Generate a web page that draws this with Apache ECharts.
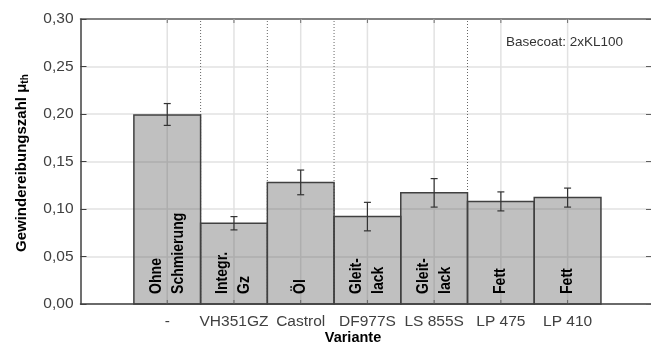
<!DOCTYPE html>
<html><head><meta charset="utf-8">
<script src="https://cdn.jsdelivr.net/npm/echarts@6/dist/echarts.min.js"></script>
<style>html,body{margin:0;padding:0;background:#fff}#c{width:651px;height:350px}</style>
</head><body><div id="c"></div>
<script>
var categories = ['-', 'VH351GZ', 'Castrol', 'DF977S', 'LS 855S', 'LP 475', 'LP 410'];
var barLabels = ['Ohne\nSchmierung', 'Integr.\nGz', 'Öl', 'Gleit-\nlack', 'Gleit-\nlack', 'Fett', 'Fett'];
var means = [0.199, 0.085, 0.128, 0.092, 0.117, 0.108, 0.112];
var errLow = [0.188, 0.078, 0.115, 0.077, 0.102, 0.098, 0.102];
var errHigh = [0.211, 0.092, 0.141, 0.107, 0.132, 0.118, 0.122];
var dividers = [0.5, 1.5, 2.5, 4.5];
var yMin = 0, yMax = 0.30, yStep = 0.05;

var FONT = "'Liberation Sans', Arial, sans-serif";
var chart = echarts.init(document.getElementById('c'), null, {renderer: 'canvas'});

var idx = categories.map(function (c, i) { return i; });

chart.setOption({
  animation: false,
  grid: {left: 80.5, right: 0, top: 19, bottom: 46},
  xAxis: [
    {type: 'value', min: -1.3, max: 7.25, position: 'bottom',
     axisLine: {show: true, onZero: false, lineStyle: {color: '#404040', width: 1.5}},
     axisTick: {show: false}, axisLabel: {show: false}, splitLine: {show: false}},
    {type: 'value', min: -1.3, max: 7.25, position: 'top',
     axisLine: {show: true, onZero: false, lineStyle: {color: '#606060', width: 1.5}},
     axisTick: {show: false}, axisLabel: {show: false}, splitLine: {show: false}}
  ],
  yAxis: [
    {type: 'value', min: yMin, max: yMax, interval: yStep, position: 'left',
     axisLine: {show: true, onZero: false, lineStyle: {color: '#404040', width: 1.5}},
     axisTick: {show: true, inside: true, length: 6, lineStyle: {color: '#404040'}},
     axisLabel: {fontFamily: FONT, fontSize: 15.5, color: '#404040', margin: 7,
       formatter: function (v) { return v.toFixed(2).replace('.', ','); }},
     splitLine: {show: true, lineStyle: {color: '#e2e2e2', width: 1.5}}},
    {type: 'value', min: yMin, max: yMax, interval: yStep, position: 'right',
     axisLine: {show: true, onZero: false, lineStyle: {color: '#404040'}},
     axisTick: {show: true, inside: true, length: 5, lineStyle: {color: '#606060'}},
     axisLabel: {show: false}, splitLine: {show: false}}
  ],
  series: [
    {
      type: 'custom', xAxisIndex: 0, yAxisIndex: 0, z: 1, silent: true,
      data: idx,
      renderItem: function (params, api) {
        var i = api.value(0);
        var b = api.coord([i, yMin]);
        var t = api.coord([i, yMax]);
        return {type: 'group', children: [
          {type: 'line', shape: {x1: b[0], y1: b[1], x2: t[0], y2: t[1]}, style: {stroke: '#e2e2e2', lineWidth: 1.5}},
          {type: 'line', shape: {x1: b[0], y1: b[1], x2: b[0], y2: b[1] - 4}, style: {stroke: '#707070', lineWidth: 1}, z2: 50},
          {type: 'line', shape: {x1: t[0], y1: t[1], x2: t[0], y2: t[1] + 4}, style: {stroke: '#707070', lineWidth: 1}, z2: 50},
          {type: 'text', x: b[0], y: b[1] + 18, style: {text: categories[i], font: '15.5px ' + FONT, fill: '#404040', textAlign: 'center', textVerticalAlign: 'middle'}}
        ]};
      }
    },
    {
      type: 'custom', xAxisIndex: 0, yAxisIndex: 0, z: 2, silent: true,
      data: dividers,
      renderItem: function (params, api) {
        var x = api.value(0);
        var b = api.coord([x, yMin]);
        var t = api.coord([x, yMax]);
        return {type: 'line', shape: {x1: b[0], y1: b[1], x2: t[0], y2: t[1]}, style: {stroke: '#666', lineWidth: 1, lineDash: [1, 2]}};
      }
    },
    {
      type: 'custom', xAxisIndex: 0, yAxisIndex: 0, z: 3, silent: true,
      data: idx.map(function (i) { return [i, means[i]]; }),
      renderItem: function (params, api) {
        var i = api.value(0);
        var tl = api.coord([i - 0.5, api.value(1)]);
        var br = api.coord([i + 0.5, yMin]);
        var c = api.coord([i, yMin]);
        return {type: 'group', children: [
          {type: 'rect', shape: {x: tl[0], y: tl[1], width: br[0] - tl[0], height: br[1] - tl[1]},
           style: {fill: 'rgba(90,90,90,0.38)', stroke: '#404040', lineWidth: 1.5}},
          {type: 'text', x: c[0], y: c[1] - 10, rotation: Math.PI / 2, scaleX: 0.88,
           style: {text: barLabels[i], font: 'bold 16px ' + FONT, fill: '#000', textAlign: 'left', textVerticalAlign: 'middle', lineHeight: 22}}
        ]};
      }
    },
    {
      type: 'custom', xAxisIndex: 0, yAxisIndex: 0, z: 4, silent: true,
      data: idx.map(function (i) { return [i, errLow[i], errHigh[i]]; }),
      renderItem: function (params, api) {
        var i = api.value(0);
        var lo = api.coord([i, api.value(1)]);
        var hi = api.coord([i, api.value(2)]);
        var st = {stroke: '#333', lineWidth: 1.2};
        return {type: 'group', children: [
          {type: 'line', shape: {x1: lo[0], y1: lo[1], x2: hi[0], y2: hi[1]}, style: st},
          {type: 'line', shape: {x1: lo[0] - 3.5, y1: lo[1], x2: lo[0] + 3.5, y2: lo[1]}, style: st},
          {type: 'line', shape: {x1: hi[0] - 3.5, y1: hi[1], x2: hi[0] + 3.5, y2: hi[1]}, style: st}
        ]};
      }
    }
  ],
  graphic: [
    {type: 'text', x: 506, y: 42, style: {text: 'Basecoat: 2xKL100', font: '13.5px ' + FONT, fill: '#333', textVerticalAlign: 'middle'}},
    {type: 'text', x: 353, y: 338, style: {text: 'Variante', font: 'bold 14.5px ' + FONT, fill: '#000', textAlign: 'center', textVerticalAlign: 'middle'}},
    {type: 'text', x: 22, y: 252, rotation: Math.PI / 2,
     style: {text: '{a|Gewindereibungszahl μ}{b|th}', textAlign: 'left', textVerticalAlign: 'middle',
       rich: {a: {font: 'bold 15px ' + FONT, fill: '#000'}, b: {font: 'bold 10px ' + FONT, fill: '#000', verticalAlign: 'bottom', padding: [7, 0, 0, 0]}}}}
  ]
});
</script></body></html>
